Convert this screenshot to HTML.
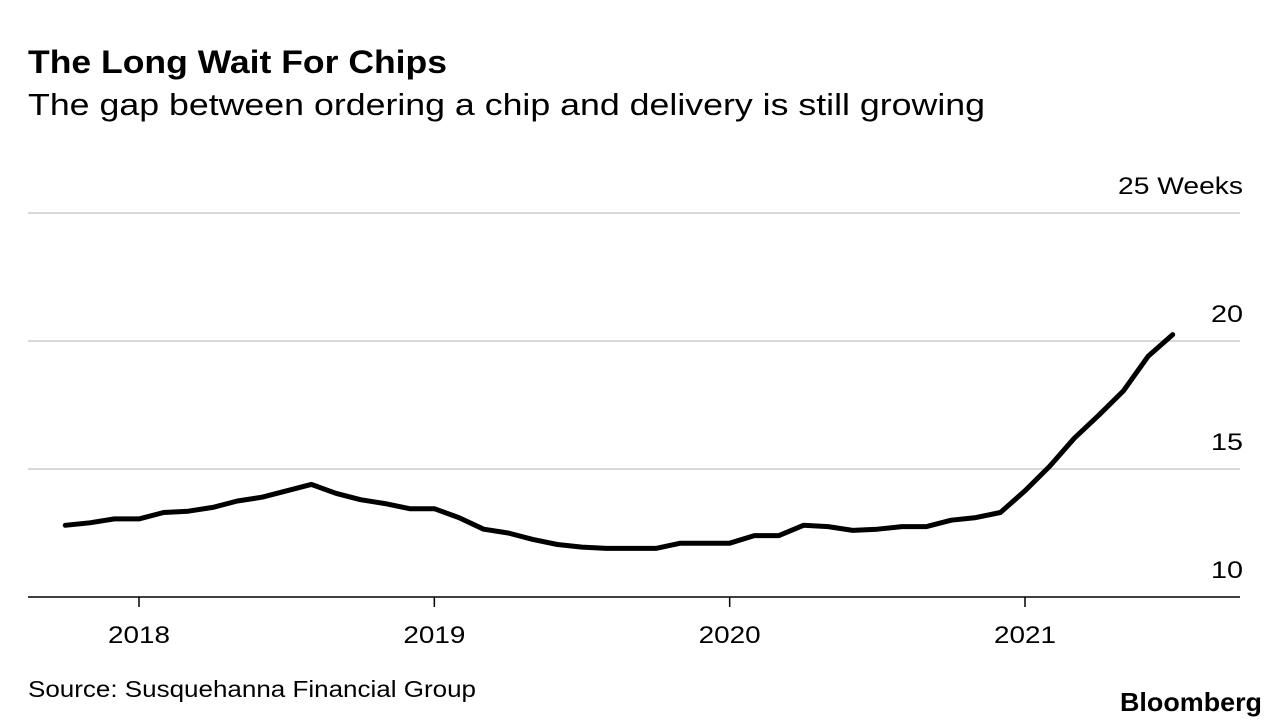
<!DOCTYPE html>
<html><head><meta charset="utf-8"><style>
body{margin:0;background:#fff;font-family:"Liberation Sans",sans-serif;}
svg{display:block}
</style></head><body>
<svg width="1288" height="728">
<text x="28" y="73" font-size="32" font-weight="bold" fill="#000" textLength="419" lengthAdjust="spacingAndGlyphs">The Long Wait For Chips</text>
<text x="28" y="115" font-size="31" fill="#000" textLength="957" lengthAdjust="spacingAndGlyphs">The gap between ordering a chip and delivery is still growing</text>
<g id="grid"></g>
<g id="xaxis"></g>
<path id="line" fill="none" stroke="#000" stroke-width="5" stroke-linejoin="round" stroke-linecap="round"/>
<text x="28" y="697" font-size="23" fill="#000" textLength="448" lengthAdjust="spacingAndGlyphs">Source: Susquehanna Financial Group</text>
<text x="1120" y="711" font-size="26" font-weight="bold" fill="#000" textLength="142" lengthAdjust="spacingAndGlyphs">Bloomberg</text>
</svg>
<script>
const yTicks=[10,15,20,25];
const yTickLabels=["10","15","20","25 Weeks"];
const xYears=[2018,2019,2020,2021];
const startYear=2017, startMonth=9; // Oct 2017 (0-based month)
const values=[12.8,12.9,13.05,13.05,13.3,13.35,13.5,13.75,13.9,14.15,14.4,14.05,13.8,13.65,13.45,13.45,13.1,12.65,12.5,12.25,12.05,11.95,11.9,11.9,11.9,12.1,12.1,12.1,12.4,12.4,12.8,12.75,12.6,12.65,12.75,12.75,13.0,13.1,13.3,14.15,15.1,16.2,17.1,18.05,19.4,20.25];
const NS="http://www.w3.org/2000/svg";
const y=v=>597-(v-10)*25.6;
const x=t=>139+(t-2018)*295.33;
const grid=document.getElementById('grid');
yTicks.forEach((v,i)=>{
  const l=document.createElementNS(NS,'line');
  l.setAttribute('x1',28);l.setAttribute('x2',1240);l.setAttribute('y1',y(v));l.setAttribute('y2',y(v));
  l.setAttribute('stroke',i===0?'#000':'#d9d9d9');l.setAttribute('stroke-width',i===0?1.5:2);
  
  
  grid.appendChild(l);
  const t=document.createElementNS(NS,'text');
  t.setAttribute('x',1243);t.setAttribute('y',y(v)-19);t.setAttribute('text-anchor','end');
  t.setAttribute('font-size',24);t.textContent=yTickLabels[i];
  if(i===3){t.setAttribute('textLength',125);t.setAttribute('lengthAdjust','spacingAndGlyphs');}
  else{t.setAttribute('textLength',32);t.setAttribute('lengthAdjust','spacingAndGlyphs');}
  
  
  grid.appendChild(t);
});
const xa=document.getElementById('xaxis');
xYears.forEach(yr=>{
  const l=document.createElementNS(NS,'line');
  l.setAttribute('x1',x(yr));l.setAttribute('x2',x(yr));l.setAttribute('y1',597);l.setAttribute('y2',607);
  l.setAttribute('stroke','#000');l.setAttribute('stroke-width',1.5);
  
  
  xa.appendChild(l);
  const t=document.createElementNS(NS,'text');
  t.setAttribute('x',x(yr)-31);t.setAttribute('y',643);
  t.setAttribute('font-size',24);t.setAttribute('textLength',62);t.setAttribute('lengthAdjust','spacingAndGlyphs');
  t.textContent=yr;
  
  
  xa.appendChild(t);
});
const d=values.map((v,i)=>{const t=startYear+(startMonth+i)/12;return (i?'L':'M')+x(t).toFixed(1)+','+y(v).toFixed(1);}).join('');
document.getElementById('line').setAttribute('d',d);
</script>
</body></html>
